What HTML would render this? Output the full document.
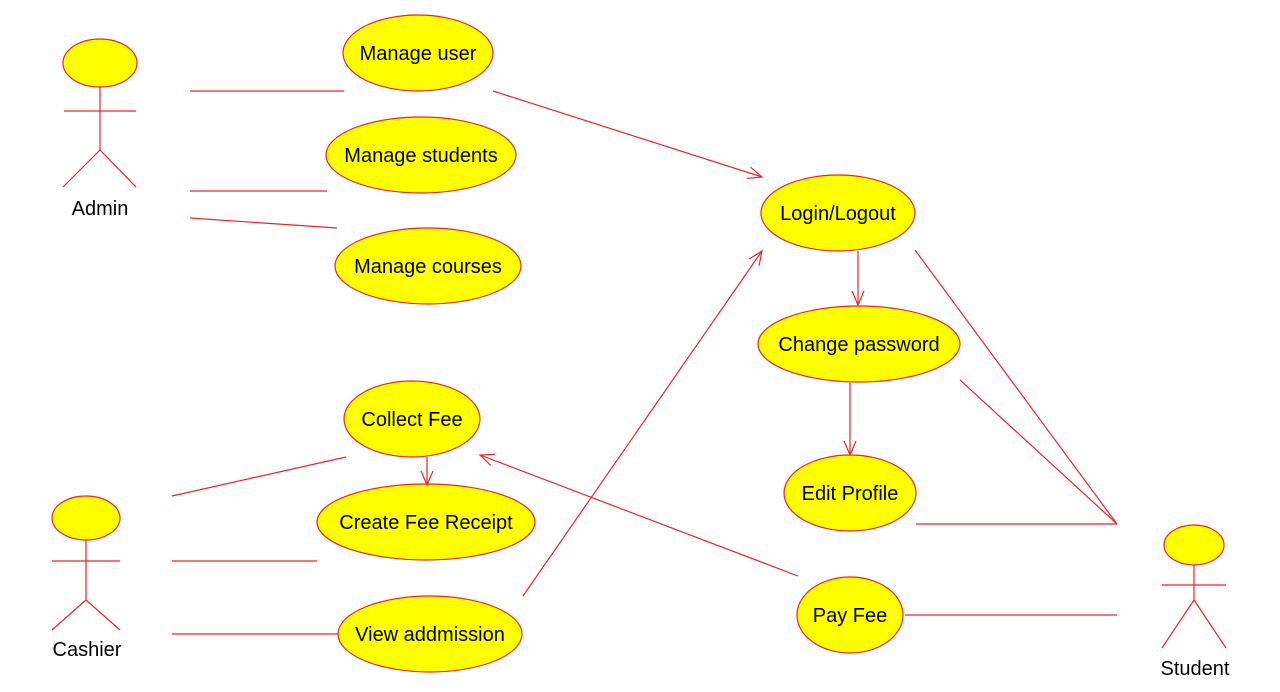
<!DOCTYPE html>
<html><head><meta charset="utf-8"><style>
html,body{margin:0;padding:0;background:#fff;}
svg{display:block;}
text{font-family:"Liberation Sans",Arial,sans-serif;font-size:20px;fill:#000;}
</style></head><body>
<svg width="1280" height="692" viewBox="0 0 1280 692" xmlns="http://www.w3.org/2000/svg">
<defs>
<marker id="a" markerWidth="16" markerHeight="16" refX="14" refY="8" orient="auto" markerUnits="userSpaceOnUse">
<path d="M0,2 L14,8 L0,14" fill="none" stroke="#e8262a" stroke-width="1.2"/>
</marker>
</defs>
<g fill="#ffff00" stroke="#e8262a" stroke-width="1.2">
<ellipse cx="418" cy="53" rx="75" ry="38"/>
<ellipse cx="421" cy="155" rx="95" ry="38"/>
<ellipse cx="428" cy="266" rx="93" ry="38"/>
<ellipse cx="838" cy="213" rx="77" ry="38"/>
<ellipse cx="859" cy="344" rx="101" ry="38"/>
<ellipse cx="850" cy="493" rx="66" ry="38"/>
<ellipse cx="412" cy="419" rx="68" ry="38"/>
<ellipse cx="426" cy="522" rx="109" ry="38"/>
<ellipse cx="430" cy="634" rx="92" ry="38"/>
<ellipse cx="850" cy="615" rx="53" ry="38"/>
<ellipse cx="100" cy="63" rx="37" ry="24"/>
<ellipse cx="86" cy="518" rx="34" ry="22"/>
<ellipse cx="1194" cy="545" rx="30" ry="20"/>
</g>
<g stroke="#e8262a" stroke-width="1.2" fill="none">
<path d="M100,87 V150 M64,111 H136 M100,150 L63,187 M100,150 L136,187"/>
<path d="M86,540 V600 M52,561 H120 M86,600 L52,630 M86,600 L120,630"/>
<path d="M1194,565 V600 M1162,585 H1226 M1194,600 L1162,648 M1194,600 L1226,648"/>
<line x1="190" y1="91" x2="344" y2="91"/>
<line x1="190" y1="191" x2="327" y2="191"/>
<line x1="190" y1="218" x2="337" y2="228"/>
<line x1="493" y1="91" x2="762" y2="177" marker-end="url(#a)"/>
<line x1="858" y1="251" x2="858" y2="305" marker-end="url(#a)"/>
<line x1="850" y1="383" x2="850" y2="455" marker-end="url(#a)"/>
<line x1="915" y1="250" x2="1117" y2="524"/>
<line x1="960" y1="380" x2="1117" y2="524"/>
<line x1="916" y1="524" x2="1117" y2="524"/>
<line x1="905" y1="615" x2="1117" y2="615"/>
<line x1="798" y1="576" x2="480" y2="455" marker-end="url(#a)"/>
<line x1="172" y1="496" x2="346" y2="457"/>
<line x1="427" y1="457" x2="427" y2="485" marker-end="url(#a)"/>
<line x1="172" y1="561" x2="317" y2="561"/>
<line x1="172" y1="634" x2="338" y2="634"/>
<line x1="523" y1="596" x2="762" y2="251" marker-end="url(#a)"/>
</g>
<g text-anchor="middle">
<text x="418" y="60">Manage user</text>
<text x="421" y="162">Manage students</text>
<text x="428" y="273">Manage courses</text>
<text x="838" y="220">Login/Logout</text>
<text x="859" y="351">Change password</text>
<text x="850" y="500">Edit Profile</text>
<text x="412" y="426">Collect Fee</text>
<text x="426" y="529">Create Fee Receipt</text>
<text x="430" y="641">View addmission</text>
<text x="850" y="622">Pay Fee</text>
<text x="100" y="215">Admin</text>
<text x="87" y="656">Cashier</text>
<text x="1195" y="675">Student</text>
</g>
</svg>
</body></html>
